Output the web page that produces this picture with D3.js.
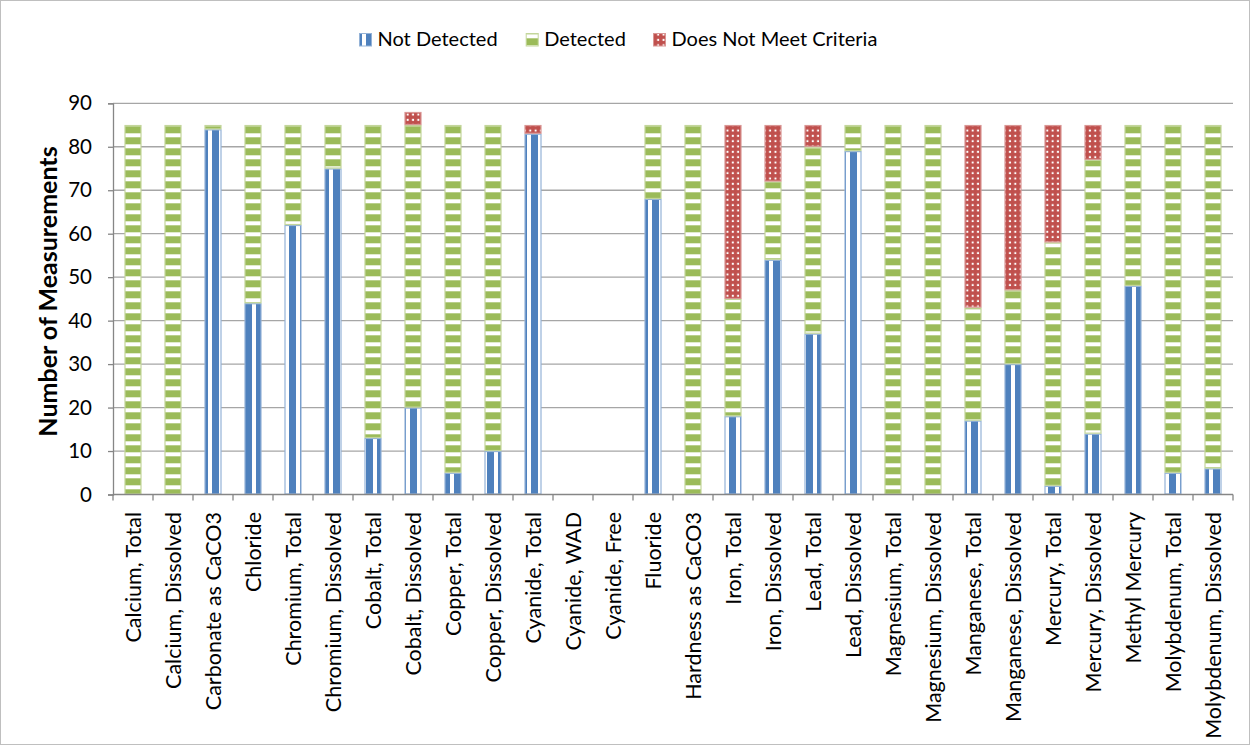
<!DOCTYPE html>
<html><head><meta charset="utf-8">
<script src="https://cdn.jsdelivr.net/npm/d3@7"></script>
<style>
html,body{margin:0;padding:0;background:#fff;}
text{font-family:Lato,"Open Sans",sans-serif;fill:#000;}
</style></head>
<body>
<svg id="chart" width="1250" height="745"></svg>
<script>
const categories = ["Calcium, Total","Calcium, Dissolved","Carbonate as CaCO3","Chloride","Chromium, Total","Chromium, Dissolved","Cobalt, Total","Cobalt, Dissolved","Copper, Total","Copper, Dissolved","Cyanide, Total","Cyanide, WAD","Cyanide, Free","Fluoride","Hardness as CaCO3","Iron, Total","Iron, Dissolved","Lead, Total","Lead, Dissolved","Magnesium, Total","Magnesium, Dissolved","Manganese, Total","Manganese, Dissolved","Mercury, Total","Mercury, Dissolved","Methyl Mercury","Molybdenum, Total","Molybdenum, Dissolved"];
const notDetected = [0,0,84,44,62,75,13,20,5,10,83,0,0,68,0,18,54,37,79,0,0,17,30,2,14,48,5,6];
const detected    = [85,85,1,41,23,10,72,65,80,75,0,0,0,17,85,27,18,43,6,85,85,26,17,56,63,37,80,79];
const notMeet     = [0,0,0,0,0,0,0,3,0,0,2,0,0,0,0,40,13,5,0,0,0,42,38,27,8,0,0,0];
const seriesNames = ["Not Detected","Detected","Does Not Meet Criteria"];
const yTicks = [0,10,20,30,40,50,60,70,80,90];

const svg = d3.select("#chart");
const W = 1250, H = 745;
const plot = {left:113, right:1233, top:103.3, bottom:494.5};

svg.append("rect").attr("x",0.5).attr("y",0.5).attr("width",W-1).attr("height",H-1)
  .attr("fill","#fff").attr("stroke","#bfbfbf").attr("stroke-width",1);

const defs = svg.append("defs");
const pBlue = defs.append("pattern").attr("id","pBlue").attr("patternUnits","userSpaceOnUse")
  .attr("x",10).attr("y",0).attr("width",11).attr("height",11);
pBlue.append("rect").attr("width",11).attr("height",11).attr("fill","#4F81BD");
pBlue.append("rect").attr("x",0).attr("width",4).attr("height",11).attr("fill","#fff");
const pGreen = defs.append("pattern").attr("id","pGreen").attr("patternUnits","userSpaceOnUse")
  .attr("x",0).attr("y",1.3).attr("width",11).attr("height",11);
pGreen.append("rect").attr("width",11).attr("height",11).attr("fill","#9BBB59");
pGreen.append("rect").attr("y",0).attr("width",11).attr("height",4).attr("fill","#fff");
const pRed = defs.append("pattern").attr("id","pRed").attr("patternUnits","userSpaceOnUse")
  .attr("x",0).attr("y",0).attr("width",5.33).attr("height",5.33);
pRed.append("rect").attr("width",5.33).attr("height",5.33).attr("fill","#C0504D");
pRed.append("rect").attr("x",1.6).attr("y",1.6).attr("width",2).attr("height",2).attr("fill","#fff");

const fills = ["url(#pBlue)","url(#pGreen)","url(#pRed)"];
const strokes = ["#95B3D7","#C3D69B","#D99694"];

const x = d3.scaleBand().domain(categories).range([plot.left, plot.right])
  .paddingInner(0.575).paddingOuter(0.2875);
const y = d3.scaleLinear().domain([0,90]).range([plot.bottom, plot.top]);

svg.append("g").selectAll("line").data(yTicks.filter(d=>d>0)).join("line")
  .attr("x1",plot.left).attr("x2",plot.right)
  .attr("y1",d=>y(d)).attr("y2",d=>y(d))
  .attr("stroke","#a6a6a6").attr("stroke-width",1.3);

const rows = categories.map((c,i)=>({cat:c, nd:notDetected[i], d:detected[i], nm:notMeet[i]}));
const stack = d3.stack().keys(["nd","d","nm"])(rows);

const gBars = svg.append("g");
stack.forEach((layer, li) => {
  gBars.append("g").selectAll("rect").data(layer.filter(s=>s[1]-s[0]>0)).join("rect")
    .attr("x", s=>x(s.data.cat)+0.5)
    .attr("y", s=>y(s[1])+0.5)
    .attr("width", x.bandwidth()-1)
    .attr("height", s=>Math.max(0, y(s[0])-y(s[1])-1))
    .attr("fill", fills[li])
    .attr("stroke", strokes[li]).attr("stroke-width",1.2);
});

const yAxis = d3.axisLeft(y).tickValues(yTicks).tickSize(5).tickPadding(16);
const gy = svg.append("g").attr("transform",`translate(${plot.left},0)`).call(yAxis);
gy.select(".domain").attr("stroke","#868686").attr("stroke-width",1.3);
gy.selectAll(".tick line").attr("stroke","#868686").attr("stroke-width",1.3);
gy.selectAll(".tick text").attr("font-size",20.5).attr("font-family","Lato").attr("fill","#000");

const gx = svg.append("g");
gx.append("line").attr("x1",plot.left).attr("x2",plot.right).attr("y1",plot.bottom).attr("y2",plot.bottom)
  .attr("stroke","#868686").attr("stroke-width",1.3);
const bounds = d3.range(categories.length+1).map(i=>plot.left + i*x.step());
gx.selectAll(".bt").data(bounds).join("line").attr("class","bt")
  .attr("x1",d=>d).attr("x2",d=>d).attr("y1",plot.bottom).attr("y2",plot.bottom+6)
  .attr("stroke","#868686").attr("stroke-width",1.3);
gx.selectAll(".xl").data(categories).join("text").attr("class","xl")
  .attr("transform",d=>`translate(${x(d)+x.bandwidth()/2+7.5},512) rotate(-90)`)
  .attr("text-anchor","end").attr("font-size",21.5).text(d=>d);

svg.append("text").attr("transform","translate(56.5,291.5) rotate(-90)")
  .attr("text-anchor","middle").attr("font-size",25).attr("font-weight","bold")
  .text("Number of Measurements");

const legendX = [359, 525.7, 653];
const lg = svg.append("g");
seriesNames.forEach((n,i)=>{
  lg.append("rect").attr("x",legendX[i]+0.5).attr("y",33.5).attr("width",12).attr("height",12.5)
    .attr("fill",fills[i]).attr("stroke",strokes[i]).attr("stroke-width",1);
  lg.append("text").attr("x",legendX[i]+18.5).attr("y",46).attr("font-size",20).text(n);
});
</script>
</body></html>
